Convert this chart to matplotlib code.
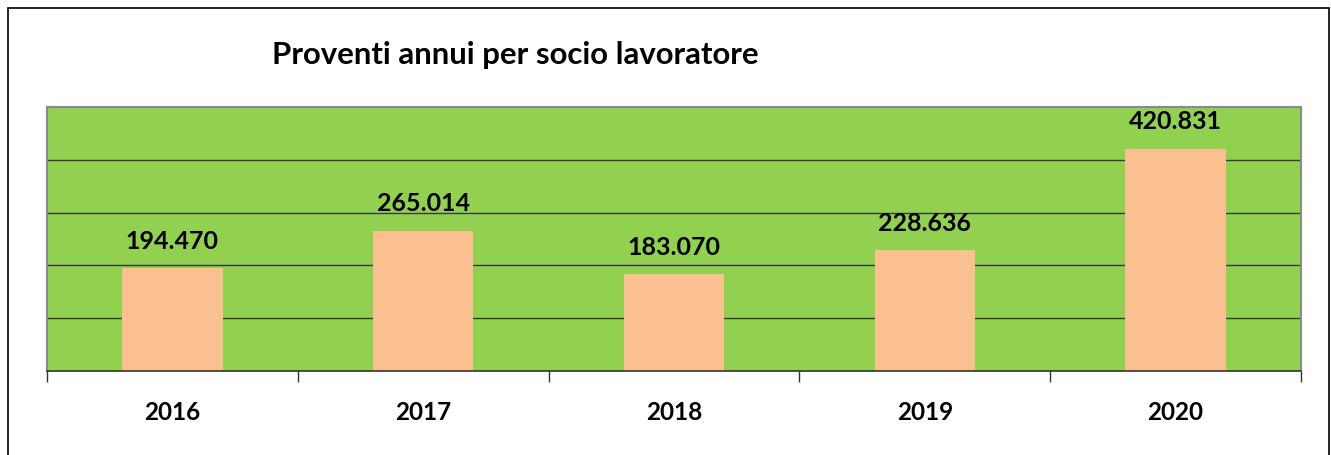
import matplotlib
matplotlib.use("Agg")
import matplotlib.pyplot as plt
import matplotlib.patches as mpatches
import numpy as np

# data
years = ["2016", "2017", "2018", "2019", "2020"]
proventi = [194470, 265014, 183070, 228636, 420831]
value_labels = ["194.470", "265.014", "183.070", "228.636", "420.831"]
title = "Proventi annui per socio lavoratore"

plt.rcParams['font.family'] = ['Lato', 'DejaVu Sans']

W, H = 1331, 456
fig = plt.figure(figsize=(W / 100, H / 100), dpi=100)

# outer frame of the chart object
frame = mpatches.Rectangle((8 / W, -0.05), (1329 - 8) / W, 1.05 - 9 / H,
                           transform=fig.transFigure, fill=False,
                           edgecolor='black', linewidth=1.2)
fig.patches.append(frame)

ax = fig.add_axes([47 / W, 1 - 372 / H, (1301 - 47) / W, (372 - 108) / H])
ax.set_facecolor('#92D050')

x = np.arange(len(years))
ax.bar(x, proventi, width=0.4, color='#FAC090', zorder=3)

ax.set_xlim(-0.5, len(years) - 0.5)
ax.set_ylim(0, 500000)
ax.set_yticks(np.arange(100000, 500000, 100000))
ax.yaxis.grid(True, color='#3a3a3a', linewidth=1.0, zorder=1)
ax.tick_params(axis='y', left=False, labelleft=False)

# category ticks at the boundaries, labels at the centers
ax.set_xticks(np.arange(-0.5, len(years)), minor=False)
ax.set_xticklabels([])
ax.tick_params(axis='x', which='major', direction='out', length=8, width=1, color='#333333')
ax.set_xticks(x, minor=True)
ax.set_xticklabels(years, minor=True, fontsize=17.5, fontweight='bold')
ax.tick_params(axis='x', which='minor', length=0, pad=21)

for side in ['left', 'top', 'right']:
    ax.spines[side].set_color('#8a8a8a')
    ax.spines[side].set_linewidth(1.5)
ax.spines['bottom'].set_color('#333333')
ax.spines['bottom'].set_linewidth(1.2)
ax.spines['bottom'].set_zorder(5)

for xi, v, lab in zip(x, proventi, value_labels):
    ax.annotate(lab, (xi, v), xytext=(0, 12), textcoords='offset points',
                ha='center', va='bottom', fontsize=18, fontweight='bold', zorder=6)

fig.text(515 / W, 1 - 55 / H, title, ha='center', va='center',
         fontsize=22.4, fontweight='bold')

fig.savefig("out.png", dpi=100)
